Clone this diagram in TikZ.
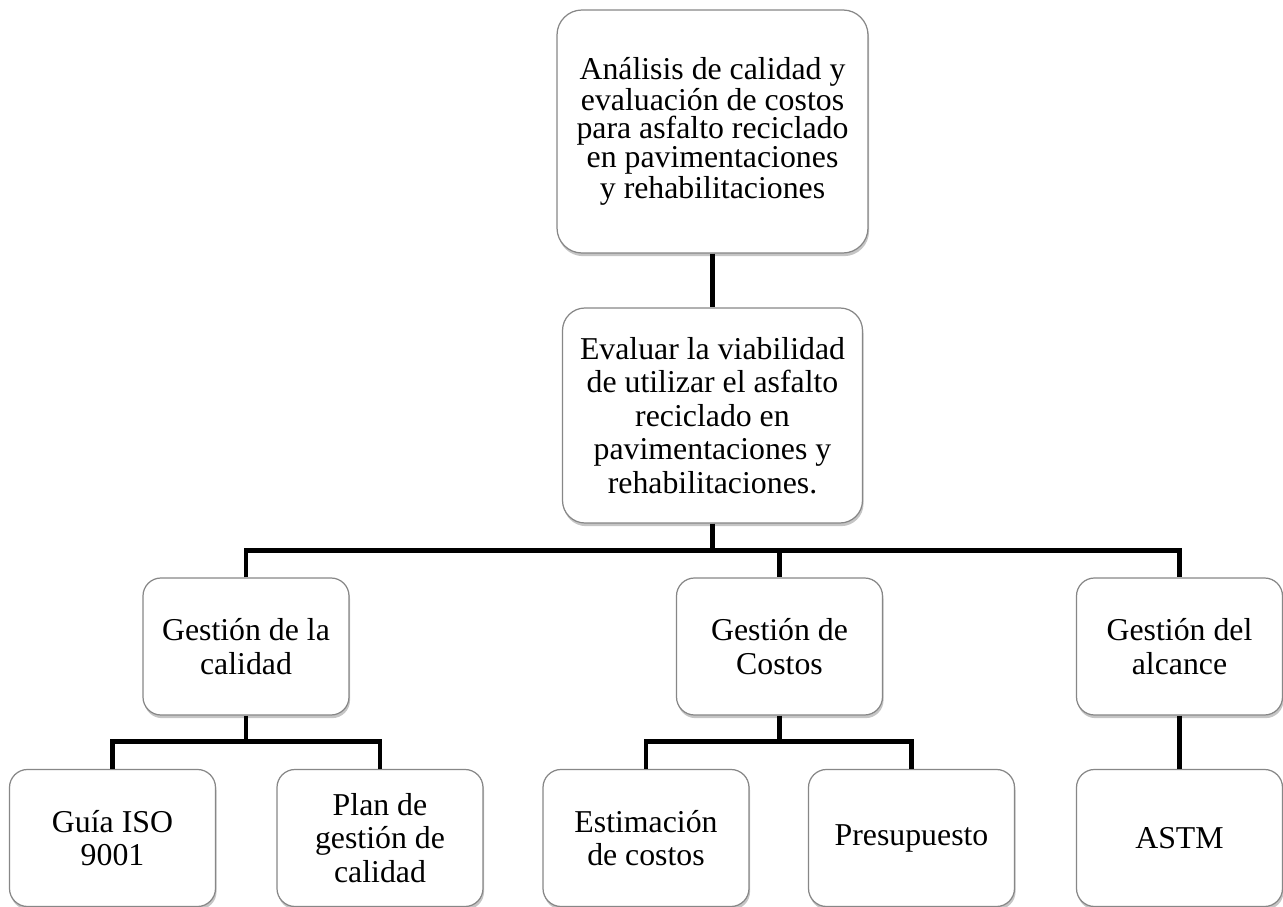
\documentclass[tikz,border=0pt]{standalone}
\usepackage{fontspec}
\setmainfont{Liberation Serif}
\usetikzlibrary{shadows}
\definecolor{bordegris}{RGB}{135, 135, 135}
\definecolor{sombragris}{RGB}{90, 90, 90}

\begin{document}
\begin{tikzpicture}[
    caja/.style={draw=bordegris, line width=0.7pt, rectangle, rounded corners=0.36cm, fill=white, text=black, align=center, inner sep=0pt,
      drop shadow={fill=sombragris, opacity=0.35, shadow xshift=0.6pt, shadow yshift=-1.8pt},
      font=\fontsize{18.1}{19.1}\selectfont},
    cajahoja/.style={caja, minimum width=4.12cm, minimum height=2.74cm},
    conn/.style={line width=2.6pt, black}]
    \useasboundingbox (0,0) rectangle (25.66,-18.14);
            \node[caja, rounded corners=0.5cm, minimum width=6.22cm, minimum height=4.86cm, font=\fontsize{18.1}{15.8}\selectfont] (tema) at (14.25,-2.63) {Análisis de calidad y\\evaluación de costos\\para asfalto reciclado\\en pavimentaciones\\y rehabilitaciones};
            \node[caja, rounded corners=0.45cm, minimum width=6.0cm, minimum height=4.3cm] (objetivo) at (14.25,-8.31) {Evaluar la viabilidad\\de utilizar el asfalto\\reciclado en\\pavimentaciones y\\rehabilitaciones.};
            \node[cajahoja] (calidad) at (4.92,-12.93) {Gestión de la\\calidad};
            \node[cajahoja] (costos) at (15.59,-12.93) {Gestión de\\Costos};
            \node[cajahoja] (alcance) at (23.59,-12.93) {Gestión del\\alcance};
            \node[cajahoja] (guia) at (2.25,-16.76) {Guía ISO\\9001};
            \node[cajahoja] (plan) at (7.6,-16.76) {Plan de\\gestión de\\calidad};
            \node[cajahoja] (estimacion) at (12.92,-16.76) {Estimación\\de costos};
            \node[cajahoja] (presupuesto) at (18.23,-16.76) {Presupuesto};
            \node[cajahoja] (astm) at (23.59,-16.76) {ASTM};
            \draw[conn] (tema.south) -- (objetivo.north);
            \draw[conn] (objetivo.south) -- ++(0,-0.54) coordinate (bus1);
            \draw[conn] (calidad.north) |- (bus1) -| (alcance.north);
            \draw[conn] (bus1) -| (costos.north);
            \draw[conn] (calidad.south) -- ++(0,-0.52) coordinate (bus2);
            \draw[conn] (guia.north) |- (bus2) -| (plan.north);
            \draw[conn] (costos.south) -- ++(0,-0.52) coordinate (bus3);
            \draw[conn] (estimacion.north) |- (bus3) -| (presupuesto.north);
            \draw[conn] (alcance) -- (astm);
        \end{tikzpicture}
\end{document}
